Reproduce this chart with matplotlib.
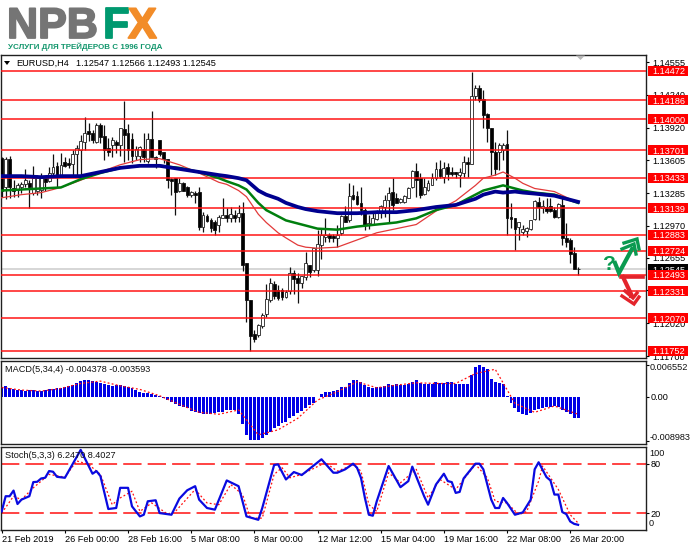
import matplotlib
matplotlib.use("Agg")
import matplotlib.pyplot as plt
import matplotlib.patheffects as pe
from matplotlib.patches import Rectangle
import numpy as np

plt.rcParams["font.family"] = ["Liberation Sans", "DejaVu Sans"]

W, H = 691, 549
PIP = 10000.0  # candle and MA values are written as points above 1.1000

highs = [364,364,365,341,338,339,352,341,355,346,
         348,344,354,366,359,367,364,363,370,375,
         385,402,397,390,397,397,395,382,383,380,
         392,418,396,387,374,374,387,387,408,365,
         380,368,362,343,343,343,339,335,331,331,
         334,310,308,304,302,307,324,314,315,312,
         317,320,261,225,196,201,212,240,246,243,
         239,236,234,257,254,251,248,271,259,275,
         293,295,304,290,289,298,307,316,338,336,
         331,334,314,307,309,312,317,327,334,343,
         329,324,327,334,351,358,348,343,341,348,
         359,361,359,358,354,349,353,365,364,446,
         433,433,429,406,392,378,377,377,390,319,
         304,300,298,296,302,322,325,322,324,324,
         315,319,324,299,285,276,256.6]
lows = [325,323,324,325,325,329,334,314,327,327,
        324,331,339,346,334,344,354,353,346,344,
        345,370,379,377,377,377,361,365,364,367,
        365,359,361,358,361,359,359,358,364,353,
        365,358,333,327,307,330,331,325,325,319,
        293,291,300,291,288,291,304,300,300,300,
        300,253,203,175,184,189,198,208,223,226,
        225,225,227,231,231,222,236,244,247,252,
        248,265,281,281,281,276,288,300,300,322,
        317,307,293,294,298,302,304,305,299,312,
        319,319,319,324,333,325,324,327,331,336,
        341,343,338,341,345,343,334,344,344,357,
        419,417,392,378,346,346,351,361,288,295,
        273,283,288,286,293,302,302,309,309,310,
        304,304,278,276,261,255,249.3]
opens = [363,334,362,333,332,334,337,338,329,331,
         332,343,340,348,355,346,359,358,357,366,
         370,378,389,387,378,395,384,372,375,378,
         375,391,387,381,365,365,371,360,381,364,
         380,368,362,342,343,331,338,334,327,329,
         330,296,306,302,300,298,304,307,304,307,
         305,309,261,225,192,191,199,211,225,240,
         234,234,228,233,251,246,241,247,259,254,
         254,278,286,288,287,285,290,306,302,327,
         326,319,312,298,298,303,310,315,322,330,
         324,320,320,324,334,350,343,328,332,336,
         343,352,344,354,349,349,346,348,359,357,
         423,431,420,405,392,368,368,370,376,305,
         304,296,291,292,294,303,320,314,315,316,
         312,305,317,285,283,270,254.7]
closes = [331,362,334,331,336,337,341,334,343,343,
          343,339,348,354,345,356,355,356,366,372,
          379,387,386,380,395,383,370,368,380,375,
          392,385,370,365,371,373,364,381,364,362,
          366,362,341,340,330,338,331,327,330,327,
          296,307,301,295,293,305,307,304,308,304,
          309,259,225,190,187,200,210,226,241,229,
          227,228,232,251,245,241,248,261,252,275,
          279,288,288,285,285,288,306,300,326,323,
          318,312,298,299,304,309,316,322,329,317,
          319,323,326,333,350,341,327,334,338,343,
          352,345,353,347,347,347,349,359,357,423,
          431,419,404,392,368,352,375,375,304,303,
          294,300,294,295,302,321,315,316,311,311,
          305,318,285,281,269,255,254.5]

ma_bars = [0,5,10,15,20,25,30,35,40,45,50,55,
           57,60,62,65,67,70,72,75,77,
           80,85,90,95,100,105,110,115,
           120,122,125,127,130,132,135,140,146]
ma_blue = [345,345,344,345,345,349,353,355,355,352,349,346,
           345,343,341,331,327,323,319,315,313,
           311,309,309,310,310,312,315,317,
           323,327,330,329,330,329,328,326,320]
ma_green = [331,332,333,334,342,348,353,355,355,353,349,343,
            340,336,332,319,312,306,302,299,297,
            294,293,296,298,300,304,312,317,
            327,331,334,336,333,331,329,327,319]
ma_red = [324,327,329,334,341,349,356,361,362,356,348,339,
          337,331,325,308,300,290,285,278,276,
          275,276,283,290,294,298,311,321,
          336,343,346,349,343,338,333,330,319]

levels = [1.14472, 1.14186, 1.14000, 1.13701, 1.13433, 1.13139, 1.12883, 1.12724, 1.12493, 1.12331, 1.12070, 1.11752]
price_ticks = [1.14555, 1.14240, 1.13920, 1.13605, 1.13285, 1.12970, 1.12655, 1.12340, 1.12020, 1.11700]

# MACD histogram, in thousandths
macd_hist = [1.70,2.18,1.84,1.50,1.43,1.36,1.22,1.36,1.29,1.16,
             1.16,1.29,1.50,1.56,1.70,1.84,1.97,2.18,2.38,2.72,
             3.20,3.40,3.33,3.26,3.06,2.72,2.52,2.38,2.24,2.38,
             2.38,2.24,2.04,1.70,1.36,0.88,0.82,0.75,0.48,0.34,
             0.20,-0.20,-0.68,-1.16,-1.56,-1.84,-2.04,-2.38,-2.92,-3.20,
             -3.40,-3.60,-3.60,-3.60,-3.40,-3.20,-3.06,-2.72,-2.72,-2.72,
             -3.60,-5.64,-7.82,-8.84,-8.98,-8.90,-8.50,-7.82,-7.14,-6.46,
             -5.98,-5.44,-5.10,-4.42,-3.94,-3.40,-2.86,-2.24,-1.70,-1.22,
             -0.14,0.48,0.88,1.02,1.16,1.36,1.90,1.90,2.72,3.40,
             3.40,2.92,2.38,2.04,1.84,1.90,2.04,2.24,2.52,2.38,
             2.52,2.38,2.38,2.52,3.06,3.33,2.86,2.65,2.58,2.65,
             2.92,2.79,2.86,2.92,2.92,2.65,2.52,2.52,2.65,4.56,
             6.12,6.46,6.05,5.64,3.60,3.06,2.72,2.52,0.20,-1.36,
             -2.38,-3.06,-3.60,-3.74,-3.40,-2.72,-2.52,-2.38,-2.18,-2.04,
             -1.90,-2.04,-2.72,-3.06,-3.60,-4.42,-4.378]
macd_signal_bars = [0,5,10,15,20,25,30,35,40,45,50,55,60,65,70,75,80,85,90,95,100,105,110,115,120,125,130,135,140,146]
macd_signal = [1.90,1.36,1.16,1.70,2.72,3.20,2.24,1.50,0.20,-1.56,-3.20,-3.60,-2.72,-7.82,-6.80,
               -4.42,-0.68,1.02,3.06,1.84,2.38,2.86,2.72,2.72,4.76,5.64,-1.36,-3.20,-1.90,-3.593]

stoch_bars = [0,1,2,3,4,5,7,8,9,10,11,12,13,14,16,20,23,24,25,27,29,30,32,33,35,36,37,39,40,43,
              45,47,49,50,52,54,57,60,62,65,66,69,70,72,74,76,81,84,85,87,89,90,91,92,93,94,95,98,
              101,103,104,107,108,110,112,113,114,115,116,117,120,121,122,124,125,126,127,128,130,
              132,134,135,136,138,139,140,141,142,143,144,145,146]
stoch_main = [22.4,40.7,40.7,47.5,31.3,36.6,40.7,57.7,58.1,62.1,62.9,71.0,70.2,64.1,62.9,96.5,67.8,71.0,65.0,25.3,
              26.5,50.8,50.8,28.5,16.4,18.4,34.6,35.8,20.4,18.4,37.8,47.9,52.8,36.6,26.5,24.5,59.7,52.8,16.4,12.3,
              26.5,78.3,79.1,60.9,69.8,66.2,85.2,69.0,69.0,73.1,79.9,75.1,62.9,38.6,18.4,17.2,34.6,77.1,
              51.6,58.9,76.3,40.7,30.5,54.8,67.8,58.9,57.7,44.7,45.9,62.1,79.9,79.9,73.1,36.6,26.5,26.5,38.6,32.6,18.4,
              21.2,36.6,73.1,81.6,63.7,59.7,42.7,42.7,21.6,19.2,10.3,7.4,6.25]
signal_bars = [0,3,5,8,12,16,19,22,25,28,30,33,35,38,42,44,49,52,55,58,61,63,66,69,71,73,76,82,85,
               89,91,93,95,98,101,105,108,111,115,120,123,125,128,131,133,136,137,141,144,146]
stoch_signal = [20.4,40.7,36.6,50.8,67.0,63.7,83.2,79.1,67.0,30.5,38.6,46.7,22.4,32.6,19.2,22.4,48.8,32.6,30.5,54.8,
                42.7,14.3,14.3,67.0,75.1,62.9,67.0,81.2,71.0,78.3,71.0,30.5,22.4,69.0,56.9,73.1,38.6,60.9,48.8,79.1,
                62.9,34.6,32.6,18.4,22.4,58.9,77.1,48.8,18.4,8.40]

tick_bars = [0, 16, 32, 48, 64, 80, 96, 112, 128, 144]
tick_labels = ["21 Feb 2019", "26 Feb 00:00", "28 Feb 16:00", "5 Mar 08:00", "8 Mar 00:00",
               "12 Mar 12:00", "15 Mar 04:00", "19 Mar 16:00", "22 Mar 08:00", "26 Mar 20:00"]

FS = 6.6
RED = "#ff1010"


def price(v):
    return 1.1 + np.asarray(v, dtype=float) / PIP


def make_axes(top, bottom):
    left, right = 1, 646
    a = fig.add_axes([left / W, 1 - bottom / H, (right - left) / W, (bottom - top) / H])
    a.set_xlim(-0.18, 163.2)
    for s in a.spines.values():
        s.set_linewidth(1.0)
        s.set_color("#202020")
    a.yaxis.tick_right()
    a.tick_params(axis="y", length=2, width=0.8, pad=1.2, labelsize=FS)
    a.set_xticks([])
    return a


fig = plt.figure(figsize=(W / 100, H / 100), dpi=100, facecolor="white")

# price panel
ax = make_axes(55, 358)
ax.set_ylim(1.11684, 1.14626)
ax.set_yticks(price_ticks)
ax.set_yticklabels(["%.5f" % p for p in price_ticks])
ax.tick_params(axis="y", pad=2.6)

bars = np.arange(len(opens))
o, c, h, l = price(opens), price(closes), price(highs), price(lows)
up = c >= o
ax.axhline(price(closes[-1]), color="#cfcfcf", lw=1.2, zorder=1)
ax.vlines(bars, l, h, color="#111111", lw=0.9, zorder=2)
ax.bar(bars[up], (c - o)[up], bottom=o[up], width=0.72, facecolor="white", edgecolor="#222222", lw=0.6, zorder=3)
ax.bar(bars[~up], (o - c)[~up], bottom=c[~up], width=0.72, facecolor="black", edgecolor="#111111", lw=0.6, zorder=3)

for lv in levels:
    ax.axhline(lv, color=RED, lw=1.2, alpha=0.9, zorder=4)
ax.plot(ma_bars, price(ma_red), color="#e23a3a", lw=0.9, zorder=5)
ax.plot(ma_bars, price(ma_green), color="#007f0e", lw=1.8, zorder=6)
ax.plot(ma_bars, price(ma_blue), color="#00008f", lw=2.7, zorder=7)

# price boxes to the right of the panel
ylab = ax.get_yaxis_transform()
box_half = 5 * (1.14626 - 1.11684) / 303
box_x, box_w, text_x = 647 / 645, 40 / 645, 651 / 645


def price_box(y, colour, zorder):
    ax.add_patch(Rectangle((box_x, y - box_half), box_w, 2 * box_half, transform=ylab, facecolor=colour,
                           edgecolor="none", clip_on=False, zorder=zorder))
    ax.text(text_x, y, "%.5f" % y, transform=ylab, color="white", fontsize=FS, va="center_baseline",
            zorder=zorder + 0.5, clip_on=False)


price_box(1.12545, "black", 8)
for lv in levels:
    price_box(lv, "#ff0000", 9)

# MACD
ax2 = make_axes(361, 444)
ax2.set_ylim(-9.7, 7.33)
ax2.bar(bars, macd_hist, width=0.75, color="#0000e6", zorder=2)
ax2.plot(macd_signal_bars, macd_signal, color=RED, lw=0.9, ls=(0, (1.5, 1.8)), zorder=3)
ax2.set_yticks([6.552, 0, -8.983])
ax2.set_yticklabels(["", "0.00", ""])

# Stochastic
ax3 = make_axes(447, 530)
ax3.set_ylim(0, 100)
ax3.axhline(80, color=RED, lw=1.1, dashes=(12, 4), zorder=1)
ax3.axhline(20, color=RED, lw=1.1, dashes=(12, 4), zorder=1)
ax3.plot(signal_bars, stoch_signal, color=RED, lw=0.9, ls=(0, (1.5, 1.8)), zorder=2)
ax3.plot(stoch_bars, stoch_main, color="#0a0ae0", lw=1.6, zorder=3)
ax3.set_yticks([80, 20])
ax3.set_xticks(tick_bars)
ax3.set_xticklabels(tick_labels, ha="left", fontsize=FS)
ax3.tick_params(axis="x", length=2, width=0.8, pad=1.5)

# overlay in pixel coordinates for the branding, captions and drawn arrows
ov = fig.add_axes([0, 0, 1, 1], zorder=10)
ov.set_xlim(0, W)
ov.set_ylim(H, 0)
ov.axis("off")

heavy = [pe.withStroke(linewidth=1.3)]
ov.text(7, 38, "NPB", fontsize=31, fontweight="bold", color="#757575", va="baseline", ha="left",
        path_effects=[pe.withStroke(linewidth=1.3, foreground="#757575")])
ov.text(103, 38, "F", fontsize=31, fontweight="bold", color="#00996f", va="baseline", ha="left",
        path_effects=[pe.withStroke(linewidth=1.3, foreground="#00996f")])
ov.text(128, 38, "X", fontsize=31, fontweight="bold", color="#f28c28", va="baseline", ha="left",
        path_effects=[pe.withStroke(linewidth=1.3, foreground="#f28c28")])
ov.text(8, 47, "УСЛУГИ ДЛЯ ТРЕЙДЕРОВ С 1996 ГОДА", fontsize=5.8, fontweight="bold", color="#12966c",
        va="center", ha="left")

ov.fill([4, 10, 7], [61, 61, 65], color="black", lw=0)
ov.text(16, 63, "EURUSD,H4", fontsize=FS, va="center", color="black")
ov.text(76, 63, "1.12547 1.12566 1.12493 1.12545", fontsize=FS, va="center", color="black")
ov.fill([576, 585, 580.5], [55.5, 55.5, 60], color="#b8b8b8", lw=0)
ov.text(5, 369, "MACD(5,34,4) -0.004378 -0.003593", fontsize=FS, va="center", color="#111111")
ov.text(5, 455, "Stoch(5,3,3) 6.2470 8.4027", fontsize=FS, va="center", color="#111111")
ov.text(650, 368, "0.006552", fontsize=FS, va="center", color="#111111")
ov.text(650, 437, "-0.008983", fontsize=FS, va="center", color="#111111")
ov.text(649, 453, "100", fontsize=FS, va="center", color="#111111")
ov.text(649, 524, "0", fontsize=FS, va="center", color="#111111")

GREEN = "#0a9a50"
ov.text(609, 265, "?", fontsize=15, fontweight="bold", color=GREEN, ha="center", va="center")
ov.plot([615, 619, 632], [263, 273, 249], color=GREEN, lw=3, solid_joinstyle="miter")
ov.plot([624, 637, 639], [243, 239, 249], color=GREEN, lw=2.4, solid_joinstyle="miter")
ov.plot([622, 634, 636], [249, 244, 254], color=GREEN, lw=2.4, solid_joinstyle="miter")

DRED = "#e3242b"
ov.plot([621, 643], [277, 277], color=DRED, lw=2.6)
ov.plot([623, 632, 631], [277, 296, 296], color=DRED, lw=3)
ov.plot([622, 634, 639], [296, 304, 297], color=DRED, lw=2.4, solid_joinstyle="miter")
ov.plot([625, 633, 637], [291, 298, 293], color=DRED, lw=2.4, solid_joinstyle="miter")

fig.savefig("out.png", dpi=100)
